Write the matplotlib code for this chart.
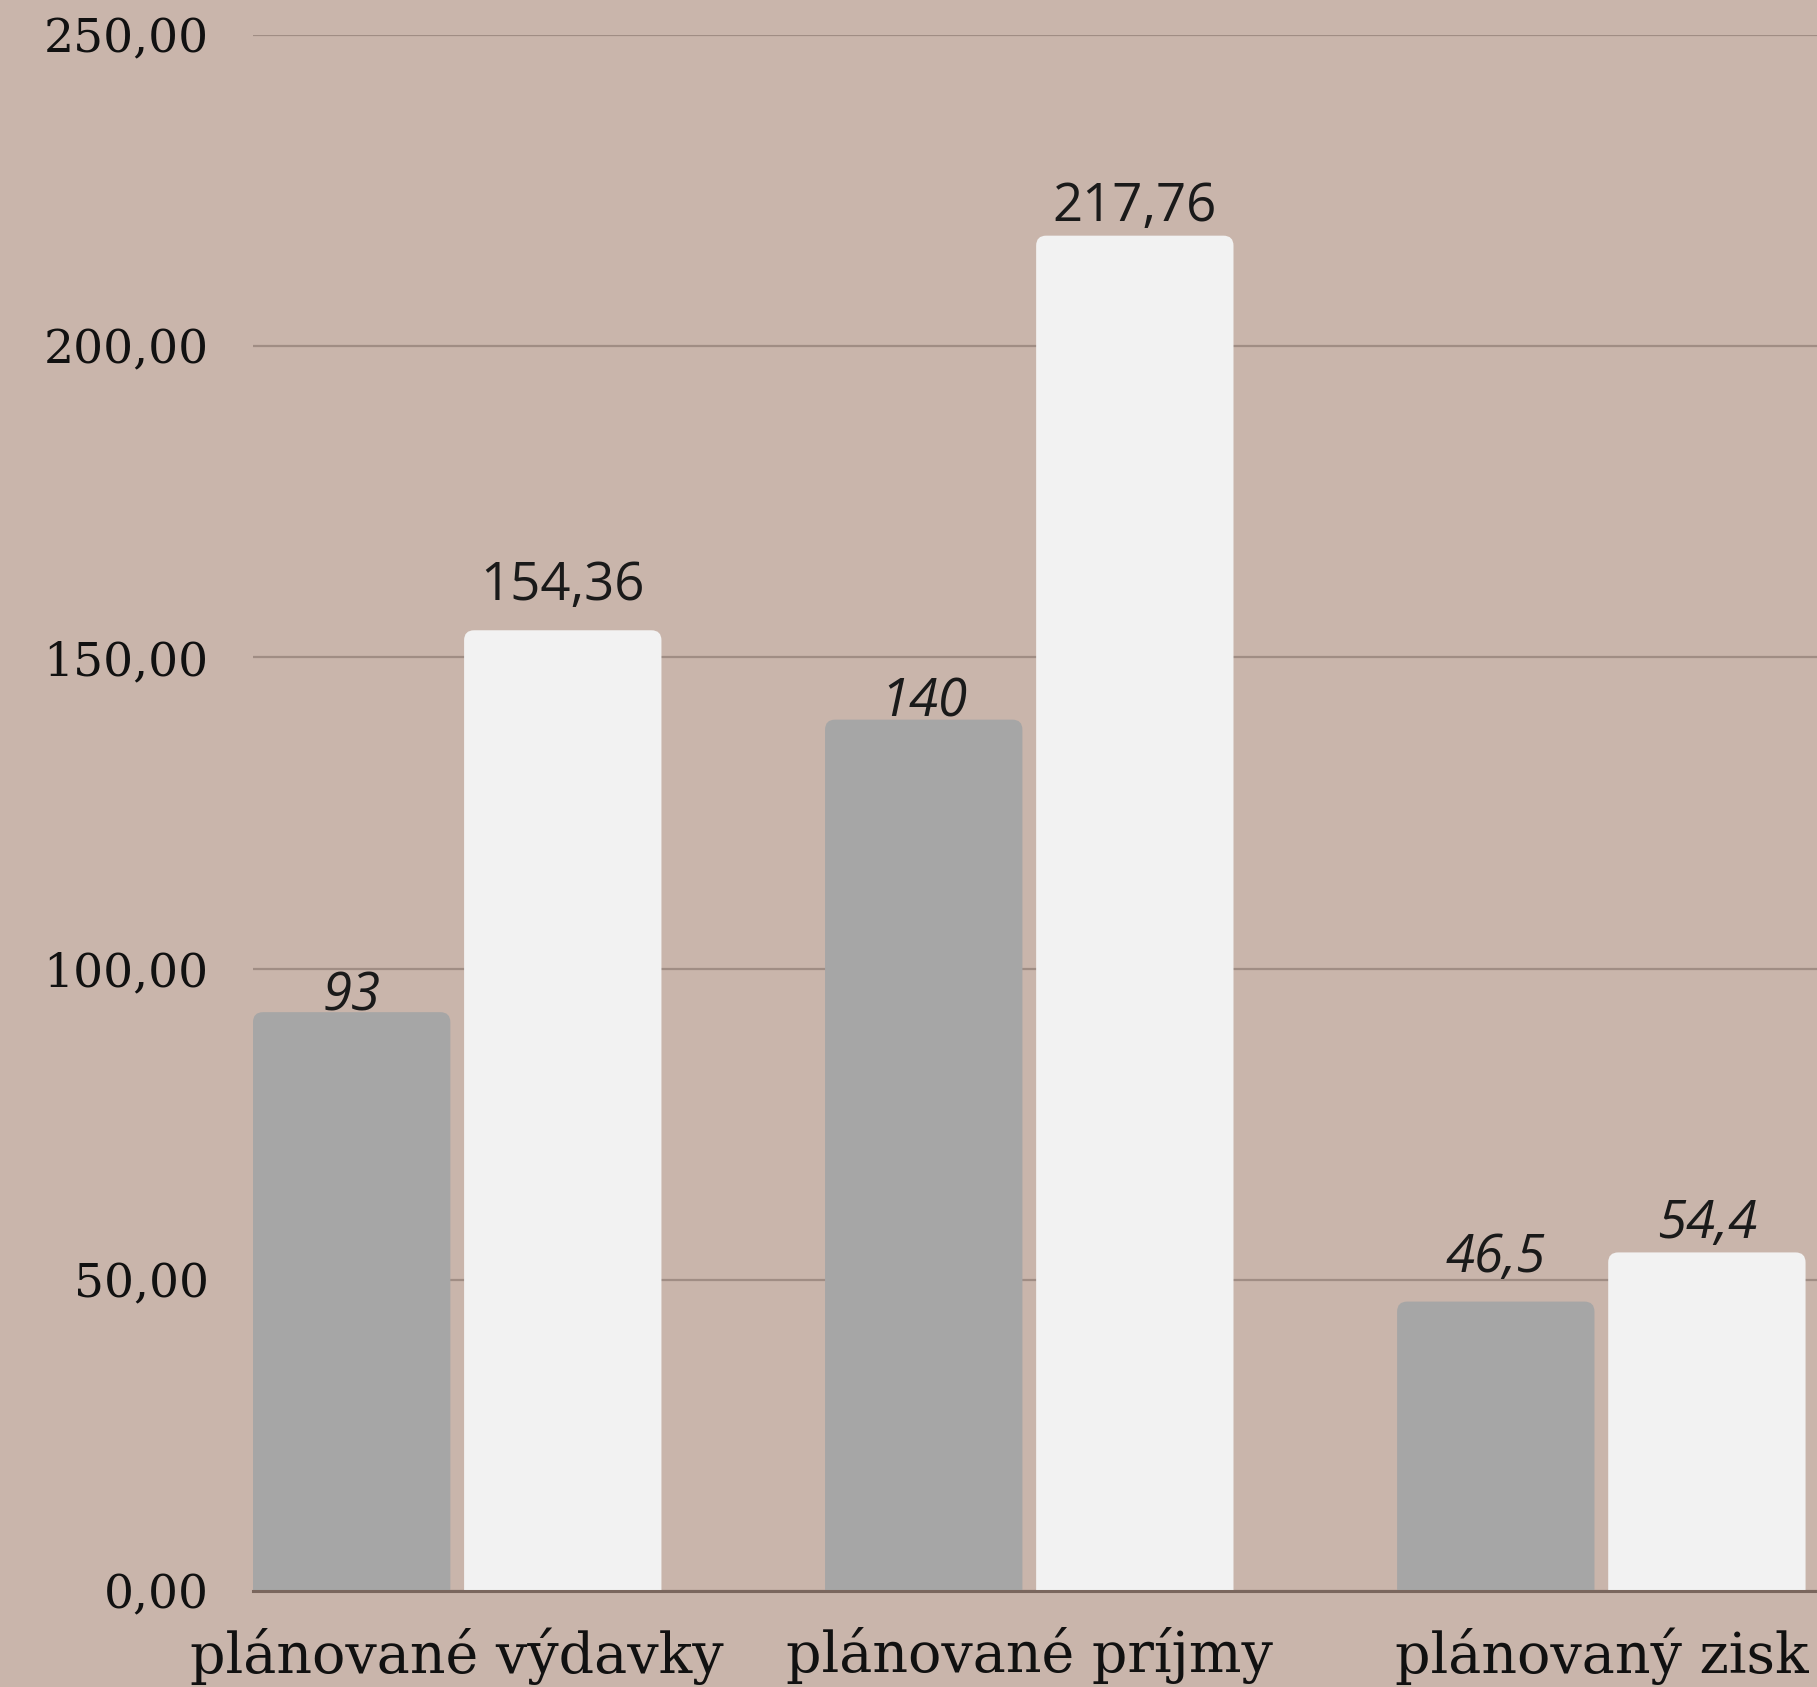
import matplotlib
matplotlib.use("Agg")
import matplotlib.pyplot as plt
from matplotlib.patches import FancyBboxPatch
import numpy as np

categories = ["plánované výdavky", "plánované príjmy", "plánovaný zisk"]
series_gray = [93, 140, 46.5]
series_white = [154.36, 217.76, 54.4]
labels_gray = ["93", "140", "46,5"]
labels_white = ["154,36", "217,76", "54,4"]
styles_gray = ["italic", "italic", "italic"]
styles_white = ["normal", "normal", "italic"]
yticks = [0, 50, 100, 150, 200, 250]
ytick_labels = ["0,00", "50,00", "100,00", "150,00", "200,00", "250,00"]

# label gaps above bars (px), as placed in the original
gap_gray = [2, 3, 30]
gap_white = [30, 15, 14]

BG = "#c9b5ab"
GRAY = "#a6a6a6"
WHITE = "#f2f2f2"
GRID = "#a08d84"
ZERO = "#7a665d"

W, H = 1817, 1687
DPI = 100
fig = plt.figure(figsize=(W / DPI, H / DPI), dpi=DPI, facecolor=BG)
ax = fig.add_axes([253 / W, (H - 1591) / H, 1 - 253 / W, (1591 - 35) / H])
ax.set_facecolor(BG)

x = np.arange(len(categories))
bw = 0.345
gap = 0.024
off = (bw + gap) / 2

ax.set_xlim(-0.357, 2.377)
ax.set_ylim(0, 250)

bars_g = ax.bar(x - off, series_gray, bw, color=GRAY, zorder=3)
bars_w = ax.bar(x + off, series_white, bw, color=WHITE, zorder=3)

# round top corners
fig.canvas.draw()
p0 = ax.transData.transform((0, 0))
p1 = ax.transData.transform((1, 1))
sx = p1[0] - p0[0]
sy = p1[1] - p0[1]
r_px = 10
r = r_px / sx
aspect = sx / sy
for cont in (bars_g, bars_w):
    for rect in cont:
        rect.set_visible(False)
        bx, by = rect.get_x(), rect.get_y()
        w, h = rect.get_width(), rect.get_height()
        ext = r * aspect
        p = FancyBboxPatch((bx, by - ext), w, h + ext,
                           boxstyle=f"round,pad=0,rounding_size={r}",
                           mutation_aspect=aspect, facecolor=rect.get_facecolor(),
                           edgecolor="none", zorder=3)
        ax.add_patch(p)

for cont, labs, sts, gaps in ((bars_g, labels_gray, styles_gray, gap_gray),
                              (bars_w, labels_white, styles_white, gap_white)):
    for rect, lab, st, g in zip(cont, labs, sts, gaps):
        ax.annotate(lab, (rect.get_x() + rect.get_width() / 2, rect.get_height()),
                    xytext=(0, g * 72 / DPI), textcoords="offset points",
                    ha="center", va="baseline", fontsize=38, family="Open Sans",
                    style=st, color="#1a1a1a", zorder=4)

ax.set_yticks(yticks)
ax.set_yticklabels(ytick_labels, family="DejaVu Serif", fontsize=34, color="#111111")
ax.set_xticks(x)
ax.set_xticklabels(categories, family="DejaVu Serif", fontsize=40, color="#111111")
ax.tick_params(axis="y", length=0, pad=32)
ax.tick_params(axis="x", length=0, pad=26)

ax.grid(axis="y", color=GRID, linewidth=1.6, zorder=0)
ax.set_axisbelow(True)
for s in ["top", "right", "left"]:
    ax.spines[s].set_visible(False)
ax.spines["bottom"].set_color(ZERO)
ax.spines["bottom"].set_linewidth(2.2)
ax.spines["bottom"].set_zorder(5)

fig.savefig("out.png", dpi=DPI, facecolor=BG)
